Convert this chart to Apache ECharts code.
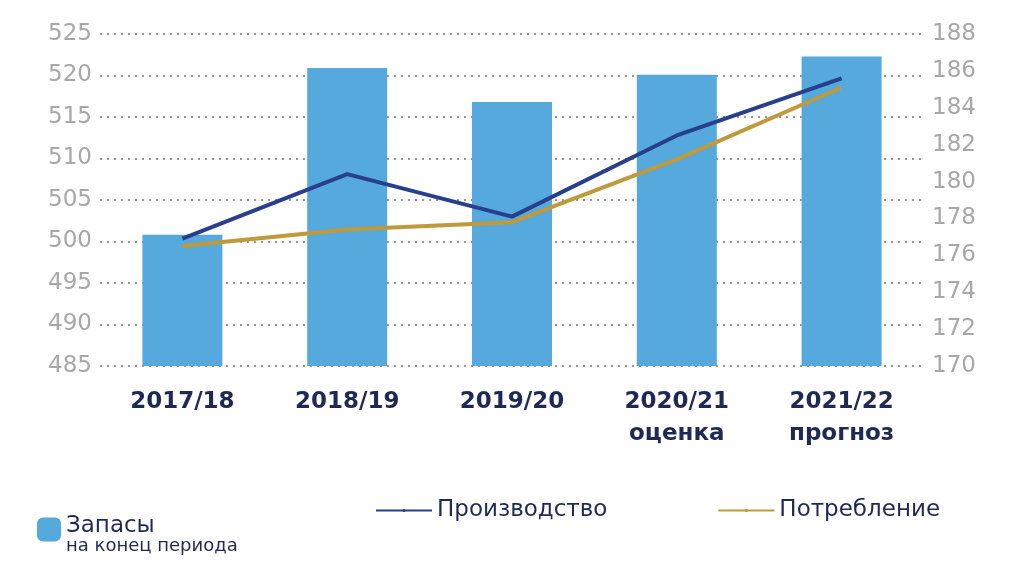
<!DOCTYPE html>
<html style="height: 100%">
<head>
	<meta charset="utf-8">
	<script src="https://cdn.jsdelivr.net/npm/echarts@6/dist/echarts.min.js"></script>
</head>
<body style="height: 100%; margin: 0; background: #fff">
	<div id="container" style="width: 1024px; height: 563px"></div>
	<script type="text/javascript">
		var categories = ['2017/18', '2018/19', '2019/20', '2020/21\nоценка', '2021/22\nпрогноз'];
		var stocks = [500.8, 520.9, 516.8, 520.1, 522.3];
		var production = [176.9, 180.4, 178.1, 182.5, 185.6];
		var consumption = [176.5, 177.4, 177.8, 181.2, 185.1];

		var fontFamily = 'DejaVu Sans';
		var myChart = echarts.init(document.getElementById('container'));
		var axisLabel = { color: '#a8a8a8', fontSize: 23, fontFamily: fontFamily };
		var option = {
			animation: false,
			grid: { left: 100, right: 100, top: 34, bottom: 197 },
			legend: [{
				left: 32, top: 490, itemWidth: 24, itemHeight: 24,
				data: ['Запасы'],
				formatter: function () { return '{a|Запасы}\n{b|на конец периода}'; },
				textStyle: {
					rich: {
						a: { fontSize: 23, color: '#1e2a55', fontFamily: fontFamily, lineHeight: 34, padding: [20, 0, 0, 0] },
						b: { fontSize: 18, color: '#1e2a55', fontFamily: fontFamily, lineHeight: 26 }
					}
				}
			}, {
				left: 370, top: 494, itemWidth: 56, itemHeight: 4, itemGap: 110,
				data: ['Производство', 'Потребление'],
				textStyle: { fontSize: 23, color: '#1e2a55', fontFamily: fontFamily }
			}],
			xAxis: {
				type: 'category', data: categories,
				axisLine: { show: false }, axisTick: { show: false },
				axisLabel: { color: '#1e2a55', fontSize: 23, fontWeight: 'bold', fontFamily: fontFamily, lineHeight: 32, margin: 20 }
			},
			yAxis: [{
				type: 'value', min: 485, max: 525, interval: 5,
				axisLabel: axisLabel,
				splitLine: { lineStyle: { type: [2, 5], color: '#777', width: 1.5 } }
			}, {
				type: 'value', min: 170, max: 188, interval: 2,
				axisLabel: axisLabel, splitLine: { show: false }
			}],
			series: [{
				name: 'Запасы', type: 'bar', data: stocks, barWidth: 80,
				itemStyle: { color: '#55a9dd' }
			}, {
				name: 'Производство', type: 'line', yAxisIndex: 1, data: production,
				symbol: 'none', lineStyle: { color: '#283f8c', width: 4 }, itemStyle: { color: '#283f8c' }
			}, {
				name: 'Потребление', type: 'line', yAxisIndex: 1, data: consumption,
				symbol: 'none', lineStyle: { color: '#c0993a', width: 4 }, itemStyle: { color: '#c0993a' }
			}]
		};
		myChart.setOption(option);
	</script>
</body>
</html>
